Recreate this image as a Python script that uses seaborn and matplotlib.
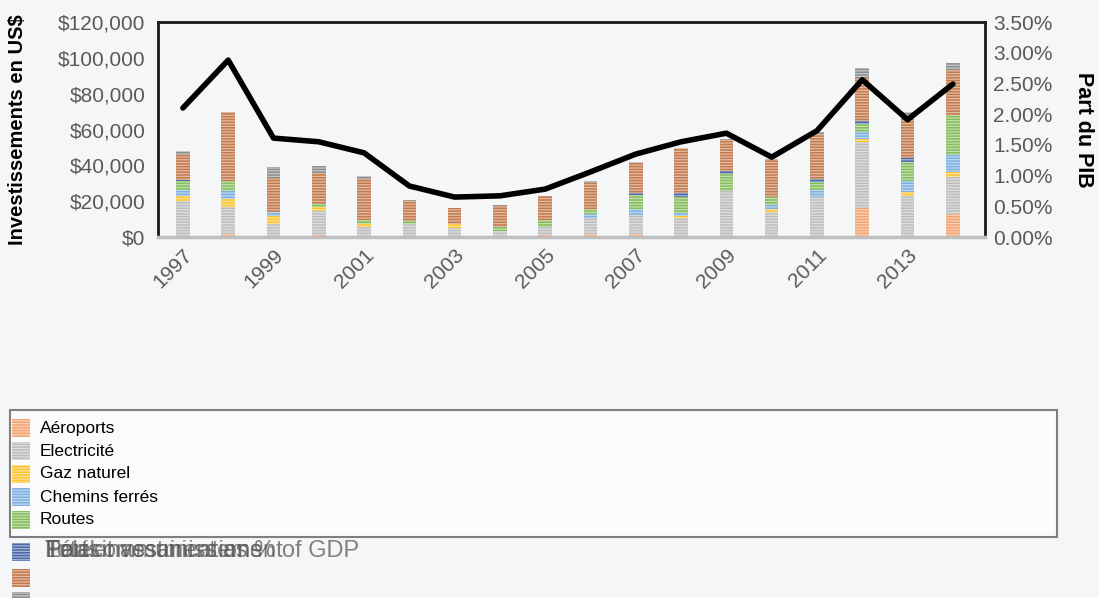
import numpy as np
import pandas as pd
import matplotlib
matplotlib.use("Agg")
import matplotlib.pyplot as plt
from matplotlib.patches import Rectangle
from matplotlib.ticker import FuncFormatter, MultipleLocator
import seaborn as sns

# ---------------- data ----------------
years = list(range(1997, 2015))
aeroports   = [0.5, 1.5, 0.5, 1.2, 0.5, 0.5, 0.5, 0.5, 1.0, 1.5, 1.5, 0.5, 0.5, 0.5, 0.5, 16.0, 0.5, 12.7]
electricite = [19.5, 15.0, 6.9, 13.4, 5.0, 6.9, 4.6, 3.0, 4.6, 9.3, 10.6, 9.9, 25.0, 13.4, 21.8, 36.9, 22.5, 21.0]
gaz_naturel = [2.8, 4.6, 4.3, 2.0, 1.9, 0.0, 1.9, 0.0, 0.0, 0.0, 0.0, 1.3, 0.0, 1.9, 0.0, 1.9, 1.9, 2.8]
chemins     = [3.7, 4.6, 2.2, 0.0, 0.0, 0.0, 0.0, 0.0, 0.0, 2.3, 3.7, 1.9, 0.0, 1.9, 3.7, 3.7, 6.3, 9.3]
routes      = [4.5, 5.5, 0.0, 1.9, 1.9, 1.5, 0.0, 2.2, 4.1, 2.4, 7.4, 8.8, 9.7, 4.7, 4.8, 4.8, 10.8, 22.3]
ports       = [1.0, 0.0, 0.0, 0.0, 0.0, 0.0, 0.0, 0.0, 0.0, 0.0, 1.3, 1.9, 1.5, 0.0, 1.3, 1.5, 1.9, 0.0]
telecom     = [14.0, 38.5, 18.8, 17.1, 23.0, 11.2, 9.0, 11.7, 13.0, 14.9, 16.8, 25.3, 17.7, 21.0, 24.8, 23.8, 21.4, 25.1]
eau         = [2.2, 0.3, 6.3, 4.0, 1.9, 0.5, 0.3, 0.5, 0.3, 1.0, 0.3, 0.3, 0.3, 0.3, 1.5, 6.0, 4.7, 3.7]
pct_gdp     = [2.10, 2.88, 1.61, 1.55, 1.37, 0.83, 0.65, 0.67, 0.78, 1.06, 1.35, 1.55, 1.69, 1.30, 1.73, 2.56, 1.91, 2.49]

series_names = ["Aéroports", "Electricité", "Gaz naturel", "Chemins ferrés", "Routes",
                "Ports", "Télécommunications", "Eau et assainissement"]
series_vals = [aeroports, electricite, gaz_naturel, chemins, routes, ports, telecom, eau]
colors = ["#F3A36E", "#BDBDBD", "#FBC531", "#7EB0E0", "#86BD5E", "#4C69A8", "#C4794A", "#8E8E8E"]
line_label = "Total investment as % of GDP"

# ---------------- figure ----------------
sns.set_theme(style="white")
plt.rcParams["font.family"] = ["Liberation Sans", "DejaVu Sans"]
plt.rcParams["hatch.linewidth"] = 0.9
plt.rcParams["hatch.color"] = (1, 1, 1, 0.5)
bg = "#F5F6F8"
tick_col = "#595959"

fig = plt.figure(figsize=(10.99, 5.98), dpi=100, facecolor=bg)
ax = fig.add_axes([158 / 1099, 1 - 237 / 598, (985 - 158) / 1099, (237 - 22) / 598])
ax.set_facecolor(bg)

df = pd.DataFrame({n: np.array(v) * 1000 for n, v in zip(series_names, series_vals)})
df["year"] = [str(y) for y in years]
cum = df[series_names].cumsum(axis=1)

# draw cumulative bars from top to bottom (overlay stacking)
for i in range(len(series_names) - 1, -1, -1):
    sns.barplot(x=df["year"], y=cum[series_names[i]], color=colors[i], saturation=1,
                width=0.3, ax=ax, edgecolor=(1, 1, 1, 0.5), linewidth=0, hatch="------",
                zorder=2)

ax.set_xlim(-0.55, 17.71)
ax.set_ylim(0, 120000)
ax.yaxis.set_major_locator(MultipleLocator(20000))
ax.yaxis.set_major_formatter(FuncFormatter(lambda v, p: f"${v:,.0f}"))
ax.set_xticks(range(0, 18, 2))
ax.set_xticklabels([str(y) for y in years[::2]], rotation=45, ha="right",
                   rotation_mode="anchor", color=tick_col, fontsize=15)
ax.tick_params(axis="y", labelcolor=tick_col, labelsize=15, length=0, pad=9)
ax.tick_params(axis="x", length=0, pad=6)
ax.set_xlabel("")
ax.set_ylabel("Investissements en US$", fontsize=14.5, fontweight="bold", color="black",
              va="center")
ax.yaxis.set_label_coords((18 - 158) / 827, 0.5)

for s in ["left", "top", "right"]:
    ax.spines[s].set_color("#1a1a1a")
    ax.spines[s].set_linewidth(2)
ax.spines["bottom"].set_color("#BFBFBF")
ax.spines["bottom"].set_linewidth(2.5)

ax2 = ax.twinx()
sns.lineplot(x=np.arange(len(years)), y=pct_gdp, color="black", linewidth=4, ax=ax2,
             zorder=5)
ax2.set_ylim(0, 3.5)
ax2.set_xlim(-0.55, 17.71)
ax2.yaxis.set_major_locator(MultipleLocator(0.5))
ax2.yaxis.set_major_formatter(FuncFormatter(lambda v, p: f"{v:.2f}%"))
ax2.tick_params(axis="y", labelcolor=tick_col, labelsize=15, length=0, pad=6)
ax2.set_ylabel("Part du PIB", fontsize=15.5, fontweight="bold", color="black", rotation=270,
               va="center")
ax2.yaxis.set_label_coords((1083 - 158) / 827, 0.5)
for s in ax2.spines.values():
    s.set_visible(False)

# ---------------- legend (manual, overflowing box as in reference) ----------------
def fy(py):
    return 1 - py / 598

def fx(px):
    return px / 1099

fig.add_artist(Rectangle((fx(10), fy(537)), fx(1057) - fx(10), fy(410) - fy(537),
                         transform=fig.transFigure, facecolor="#FBFBFC",
                         edgecolor="#7F7F7F", linewidth=1.5, zorder=1))

rows = [428, 451, 474, 497, 520, 552, 578, 601]
for i, (name, col) in enumerate(zip(series_names, colors)):
    y = rows[i]
    fig.add_artist(Rectangle((fx(12), fy(y + 9)), fx(30) - fx(12), fy(y - 9) - fy(y + 9),
                             transform=fig.transFigure, facecolor=col, edgecolor=(1, 1, 1, 0.5),
                             linewidth=0, hatch="------", zorder=3))
    if i < 5:
        fig.text(fx(40), fy(y), name, fontsize=12.5, color="black", va="center", ha="left",
                 zorder=4)

# overlapping labels, stacked at one spot as in the reference
for txt in ["Ports", "Télécommunications", "Eau et assainissement", line_label]:
    fig.text(fx(45), fy(551), txt, fontsize=17, color=tick_col, va="center", ha="left",
             alpha=0.75, zorder=4)

fig.savefig("out.png", dpi=100, facecolor=bg)
